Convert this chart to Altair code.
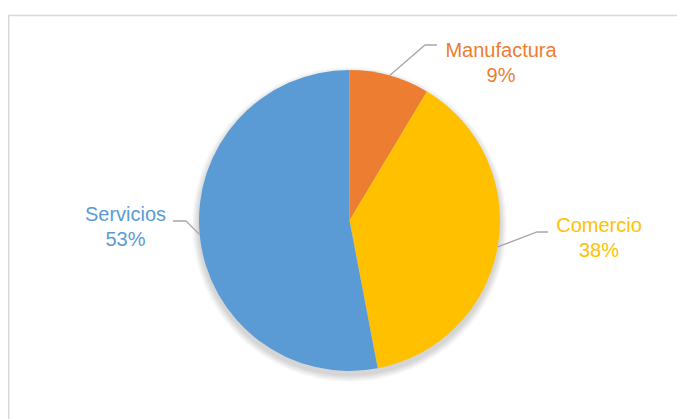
import math
import altair as alt
import pandas as pd

# ---- data ----
categories = ["Manufactura", "Comercio", "Servicios"]
values = [8.6, 38.4, 53.0]
colors = ["#ED7D31", "#FFC000", "#5B9BD5"]

# ---- layout ----
W, H = 677, 419
CX, CY, R = 349.5, 220.5, 150.5
# label text anchor (center x, first-line baseline y) and leader line end point
LABEL_TEXT = [(501, 57), (599, 232), (125.5, 221)]
LINE_END = [(437, 45), (548, 232), (173, 221)]
ELBOW_LEN = [12, 11, -13]  # horizontal segment length (towards the label)
FONT = "Liberation Sans"

total = sum(values)
rows, line_rows, text_rows = [], [], []
cum = 0.0
for i, (c, v) in enumerate(zip(categories, values)):
    rows.append({"cat": c, "value": v, "idx": i})
    mid = (cum + v / 2) / total * 2 * math.pi
    cum += v
    ax, ay = CX + R * math.sin(mid), CY - R * math.cos(mid)
    ex, ey = LINE_END[i]
    bx, by = ex - ELBOW_LEN[i], ey
    for j, (px, py) in enumerate([(ax, ay), (bx, by), (ex, ey)]):
        line_rows.append({"cat": c, "k": j, "px": px, "py": py})
    pct = round(v / total * 100)
    tx, ty = LABEL_TEXT[i]
    text_rows.append({"cat": c, "label": f"{c}\n{pct}%", "px": tx, "py": ty})

df = pd.DataFrame(rows)
lines = pd.DataFrame(line_rows)
texts = pd.DataFrame(text_rows)

color_scale = alt.Scale(domain=categories, range=colors)
xs = alt.Scale(domain=[0, W], range=[0, W], nice=False, zero=False)
ys = alt.Scale(domain=[0, H], range=[0, H], nice=False, zero=False)

frame = alt.Chart(pd.DataFrame({"a": [0]})).mark_rect(
    fill="white", stroke="#D9D9D9", strokeWidth=1.5
).encode(x=alt.value(8.75), y=alt.value(15.5), x2=alt.value(W + 20), y2=alt.value(H + 20))

shadows = []
for k in range(1, 8):
    shadows.append(
        alt.Chart(pd.DataFrame({"a": [0]})).mark_arc(
            color="black", opacity=0.022, outerRadius=R + k
        ).encode(theta=alt.value(0), theta2=alt.value(2 * math.pi),
                 x=alt.value(CX), y=alt.value(CY + 4))
    )

pie = alt.Chart(df).mark_arc(outerRadius=R).encode(
    theta=alt.Theta("value:Q", stack=True),
    color=alt.Color("cat:N", scale=color_scale, legend=None),
    order=alt.Order("idx:Q"),
    x=alt.value(CX),
    y=alt.value(CY),
)

leaders = alt.Chart(lines).mark_line(color="#A6A6A6", strokeWidth=1.3).encode(
    x=alt.X("px:Q", scale=xs, axis=None),
    y=alt.Y("py:Q", scale=ys, axis=None),
    detail="cat:N",
    order="k:Q",
)

labels = alt.Chart(texts).mark_text(
    font=FONT, fontSize=20, align="center", baseline="alphabetic",
    lineBreak="\n", lineHeight=25
).encode(
    x=alt.X("px:Q", scale=xs, axis=None),
    y=alt.Y("py:Q", scale=ys, axis=None),
    text="label:N",
    color=alt.Color("cat:N", scale=color_scale, legend=None),
)

chart = alt.layer(frame, *shadows, pie, leaders, labels).properties(
    width=W, height=H, padding=0, autosize=alt.AutoSizeParams(type="none")
).configure_view(stroke=None).resolve_scale(theta="independent")

chart.save("out.html", embed_options={"renderer": "svg", "actions": False})
